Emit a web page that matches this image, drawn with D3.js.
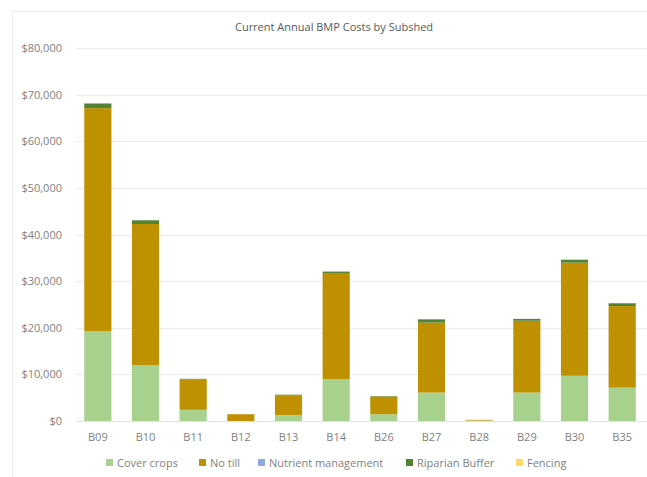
<!DOCTYPE html>
<html>
<head>
<meta charset="utf-8">
<script src="https://cdn.jsdelivr.net/npm/d3@7"></script>
<style>
  html, body { margin: 0; padding: 0; background: #fff; }
  svg { display: block; font-family: "Open Sans", "Liberation Sans", sans-serif; }
</style>
</head>
<body>
<svg id="chart" width="647" height="477"></svg>
<script>
// Subsheds along the category axis
const subsheds = ["B09", "B10", "B11", "B12", "B13", "B14", "B26", "B27", "B28", "B29", "B30", "B35"];

// Annual cost per practice (USD), one value per subshed
const coverCrops         = [19300, 12000, 2400,    0, 1300, 8950, 1450, 6100, 100, 6100,  9700,  7150];
const noTill             = [47800, 30250, 6550, 1450, 4200, 22800, 3800, 15000, 150, 15400, 24250, 17500];
const nutrientManagement = [    0,     0,    0,    0,    0,     0,    0,     0,   0,     0,     0,     0];
const riparianBuffer     = [ 1000,   800,  100,    0,  150,   300,  100,   700,   0,   400,   650,   600];
const fencing            = [    0,     0,    0,    0,    0,     0,    0,     0,   0,     0,     0,     0];

const seriesNames  = ["Cover crops", "No till", "Nutrient management", "Riparian Buffer", "Fencing"];
const seriesColors = ["#a9d18e", "#bf9000", "#8faadc", "#548235", "#ffd966"];
const yTicks = [0, 10000, 20000, 30000, 40000, 50000, 60000, 70000, 80000];

const chartTitle = "Current Annual BMP Costs by Subshed";

// Build a table the stack generator can read
const seriesValues = [coverCrops, noTill, nutrientManagement, riparianBuffer, fencing];
const rows = subsheds.map((s, i) => {
  const r = { subshed: s };
  seriesNames.forEach((n, k) => { r[n] = seriesValues[k][i]; });
  return r;
});

const svg = d3.select("#chart");
const W = 647, H = 477;
const plot = { left: 74, right: 646, top: 48, bottom: 421 };

// Chart frame
svg.append("rect")
  .attr("x", 12.5).attr("y", 11.5)
  .attr("width", W).attr("height", H - 5)
  .attr("fill", "none").attr("stroke", "#ececec").attr("stroke-width", 1);

const x = d3.scaleBand()
  .domain(subsheds)
  .range([plot.left, plot.right])
  .paddingInner(0.43)
  .paddingOuter(0.215);

const y = d3.scaleLinear()
  .domain([0, 80000])
  .range([plot.bottom, plot.top]);

// Horizontal gridlines
svg.append("g")
  .selectAll("line")
  .data(yTicks)
  .join("line")
  .attr("x1", 76).attr("x2", W)
  .attr("y1", d => Math.round(y(d)) + 0.5)
  .attr("y2", d => Math.round(y(d)) + 0.5)
  .attr("stroke", "#ebebeb")
  .attr("stroke-width", 1);

// Value axis labels
const fmt = d3.format("$,");
const yAxis = d3.axisLeft(y).tickValues(yTicks).tickFormat(fmt).tickSize(0).tickPadding(0);
const gy = svg.append("g").attr("transform", "translate(62,0)").call(yAxis);
gy.select(".domain").remove();
gy.selectAll("text")
  .attr("fill", "#7f7f7f")
  .attr("font-size", "11px")
  .attr("font-family", "\"Open Sans\", sans-serif");

// Stacked bars
const stack = d3.stack().keys(seriesNames);
const layers = stack(rows);

svg.append("g")
  .selectAll("g")
  .data(layers)
  .join("g")
  .attr("fill", (d, i) => seriesColors[i])
  .selectAll("rect")
  .data(d => d)
  .join("rect")
  .attr("x", d => x(d.data.subshed))
  .attr("width", x.bandwidth())
  .attr("y", d => y(d[1]))
  .attr("height", d => Math.max(0, y(d[0]) - y(d[1])));

// Baseline
svg.append("line")
  .attr("x1", 76).attr("x2", W)
  .attr("y1", plot.bottom + 0.5).attr("y2", plot.bottom + 0.5)
  .attr("stroke", "#e3e3e3");

// Category axis labels
const xAxis = d3.axisBottom(x).tickSize(0).tickPadding(12);
const gx = svg.append("g").attr("transform", `translate(0,${plot.bottom})`).call(xAxis);
gx.select(".domain").remove();
gx.selectAll("text")
  .attr("fill", "#7f7f7f")
  .attr("font-size", "11px")
  .attr("font-family", "\"Open Sans\", sans-serif");

// Title
svg.append("text")
  .attr("x", 334).attr("y", 31)
  .attr("text-anchor", "middle")
  .attr("fill", "#595959")
  .attr("font-size", "11px")
  .text(chartTitle);

// Legend
const legendX = [106, 199, 258, 406, 516];
const legend = svg.append("g").attr("transform", "translate(0,463)");
const items = legend.selectAll("g")
  .data(seriesNames)
  .join("g")
  .attr("transform", (d, i) => `translate(${legendX[i]},0)`);
items.append("rect")
  .attr("x", 0).attr("y", -4)
  .attr("width", 7).attr("height", 7)
  .attr("fill", (d, i) => seriesColors[i]);
items.append("text")
  .attr("x", 11).attr("y", 4)
  .attr("fill", "#7f7f7f")
  .attr("font-size", "11px")
  .text(d => d);
</script>
</body>
</html>
